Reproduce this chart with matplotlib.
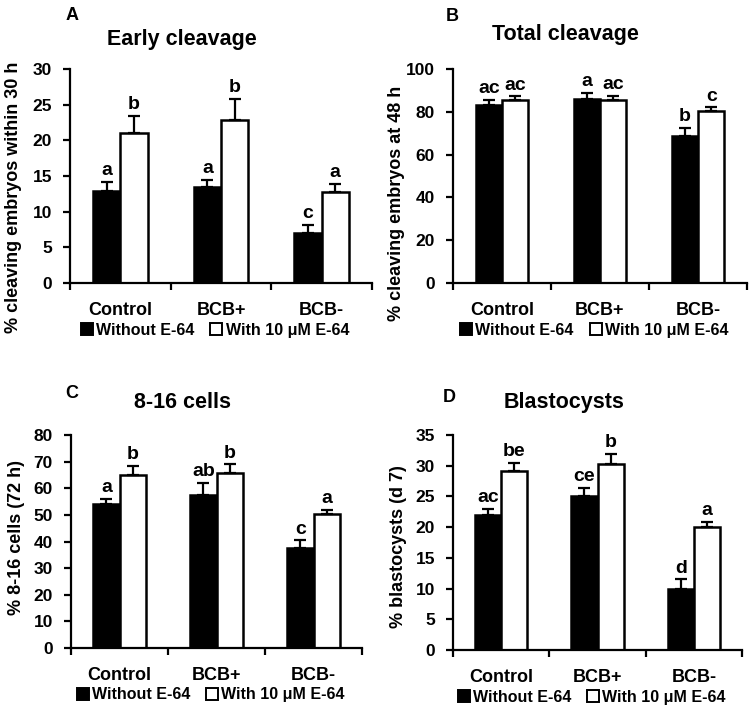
import numpy as np
import matplotlib.pyplot as plt
from matplotlib.patches import Patch

plt.rcParams['font.family'] = ['Liberation Sans', 'DejaVu Sans']
plt.rcParams['font.weight'] = 'bold'

# ==============================
# Data
# ==============================
groups = ["Control", "BCB+", "BCB-"]
series_names = ["Without E-64", "With 10 μM E-64"]

# A - early cleavage
early_without = [12.9, 13.4, 7.0]
early_without_err = [1.3, 1.1, 1.1]
early_with = [21.0, 22.8, 12.8]
early_with_err = [2.4, 3.0, 1.1]
early_letters = [["a", "a", "c"], ["b", "b", "a"]]

# B - total cleavage
total_without = [83.0, 86.1, 68.8]
total_without_err = [2.7, 2.8, 3.8]
total_with = [85.7, 85.7, 80.5]
total_with_err = [1.5, 1.8, 1.6]
total_letters = [["ac", "a", "b"], ["ac", "ac", "c"]]

# C - 8-16 cells
cells_without = [54.0, 57.5, 37.5]
cells_without_err = [2.0, 4.4, 2.9]
cells_with = [64.8, 65.6, 50.2]
cells_with_err = [3.7, 3.4, 1.6]
cells_letters = [["a", "ab", "c"], ["b", "b", "a"]]

# D - blastocysts
blast_without = [22.0, 25.0, 9.9]
blast_without_err = [1.0, 1.4, 1.6]
blast_with = [29.1, 30.3, 20.0]
blast_with_err = [1.4, 1.6, 0.8]
blast_letters = [["ac", "ce", "d"], ["be", "b", "a"]]

# ==============================
# Layout (pixel positions in a 750x711 canvas)
# ==============================
W, H = 750, 711
panels = [
    # axes rect (l, t, r, b), letter, letter pos, title, title pos,
    # ylabel, ylabel pos (right edge px, axes frac), ymax, step, data
    ([70, 69, 372, 283], "A", (66, 20), "Early cleavage", (182, 45),
     "% cleaving embryos within 30 h", (22, 0.40), 30, 5,
     (early_without, early_without_err, early_with, early_with_err, early_letters)),
    ([453, 69, 747, 283], "B", (446, 21), "Total cleavage", (565, 40),
     "% cleaving embryos at 48 h", (405, 0.37), 100, 20,
     (total_without, total_without_err, total_with, total_with_err, total_letters)),
    ([71, 435, 362, 648], "C", (65, 398), "8-16 cells", (183, 408),
     "% 8-16 cells (72 h)", (25, 0.52), 80, 10,
     (cells_without, cells_without_err, cells_with, cells_with_err, cells_letters)),
    ([453, 435, 742, 650], "D", (443, 402), "Blastocysts", (564, 408),
     "% blastocysts (d 7)", (407, 0.48), 35, 5,
     (blast_without, blast_without_err, blast_with, blast_with_err, blast_letters)),
]

fig = plt.figure(figsize=(7.5, 7.11), dpi=100)

x = np.arange(len(groups))
bw = 0.27
ekw = dict(ecolor="black", elinewidth=1.6, capsize=4, capthick=1.6)

for rect, letter, lpos, title, tpos, ylabel, ypos, ymax, ystep, data in panels:
    l, t, r, b = rect
    ax = fig.add_axes([l / W, 1 - b / H, (r - l) / W, (b - t) / H])
    wo, wo_err, wi, wi_err, letters = data

    ax.bar(x - bw / 2, wo, bw, color="black", edgecolor="black", linewidth=1.8,
           yerr=[np.zeros(3), wo_err], error_kw=ekw)
    ax.bar(x + bw / 2, wi, bw, color="white", edgecolor="black", linewidth=1.8,
           yerr=[np.zeros(3), wi_err], error_kw=ekw)

    # significance letters above the error bars
    for i in range(3):
        ax.annotate(letters[0][i], (x[i] - bw / 2, wo[i] + wo_err[i]),
                    xytext=(0, 2), textcoords="offset points",
                    ha="center", va="bottom", fontsize=14, fontweight="bold")
        ax.annotate(letters[1][i], (x[i] + bw / 2, wi[i] + wi_err[i]),
                    xytext=(0, 2), textcoords="offset points",
                    ha="center", va="bottom", fontsize=14, fontweight="bold")

    ax.set_xlim(-0.5, 2.5)
    ax.set_ylim(0, ymax)
    ax.set_yticks(np.arange(0, ymax + 0.1, ystep))
    ax.set_xticks([-0.5, 0.5, 1.5, 2.5])
    ax.set_xticklabels([])
    ax.set_xticks(x, minor=True)
    ax.set_xticklabels(groups, minor=True, fontsize=13, fontweight="bold")
    ax.tick_params(axis="x", which="minor", length=0, pad=14)
    ax.tick_params(axis="x", which="major", length=5, width=1.6, direction="out")
    ax.tick_params(axis="y", length=5, width=1.6, labelsize=12.5, pad=8)
    for lab in ax.get_yticklabels():
        lab.set_fontweight("bold")

    for s in ["top", "right"]:
        ax.spines[s].set_visible(False)
    for s in ["left", "bottom"]:
        ax.spines[s].set_linewidth(1.6)

    ax.set_ylabel(ylabel, fontsize=13, fontweight="bold")
    ax.yaxis.set_label_coords((ypos[0] - l) / (r - l), ypos[1])

    handles = [Patch(facecolor="black", edgecolor="black", linewidth=1.4),
               Patch(facecolor="white", edgecolor="black", linewidth=1.4)]
    ax.legend(handles, series_names, loc="center", bbox_to_anchor=(0.48, -0.22),
              ncol=2, frameon=False, handlelength=0.75, handleheight=0.75,
              handletextpad=0.2, columnspacing=1.0, borderaxespad=0,
              prop=dict(weight="bold", size=11.5))

    fig.text(lpos[0] / W, 1 - lpos[1] / H, letter, fontsize=13, fontweight="bold",
             ha="left", va="baseline")
    fig.text(tpos[0] / W, 1 - tpos[1] / H, title, fontsize=15.5, fontweight="bold",
             ha="center", va="baseline")

fig.savefig("out.png", dpi=100)
